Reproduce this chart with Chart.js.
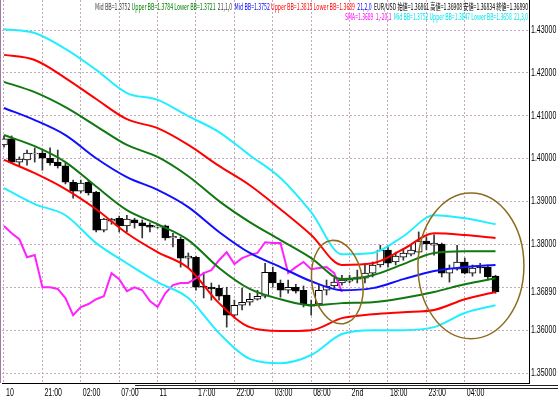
<!DOCTYPE html>
<html>
<head>
<meta charset="utf-8">
<script src="https://cdn.jsdelivr.net/npm/chart.js@4.4.0/dist/chart.umd.min.js"></script>
<style>
  html, body { margin: 0; padding: 0; background: #fff; }
  #wrap { width: 558px; height: 399px; }
</style>
</head>
<body>
<div id="wrap"><canvas id="fxChart" width="558" height="399"></canvas></div>
<script>
// EUR/USD hourly candles, bar index 0..64
const opens = [1.4032,1.4046,1.3992,1.3997,1.4011,1.4013,1.4001,1.3992,1.3983,1.3945,
  1.3924,1.3945,1.3922,1.3833,1.3854,1.3861,1.3843,1.3857,1.3850,1.3845,
  1.3840,1.3843,1.3815,1.3812,1.3768,1.3770,1.3703,1.3700,1.3698,1.3682,
  1.3635,1.3658,1.3665,1.3672,1.3679,1.3735,1.3710,1.3693,1.3700,1.3693,
  1.3656,1.3661,1.3693,1.3703,1.3710,1.3714,1.3719,1.3721,1.3733,1.3752,
  1.3787,1.3759,1.3770,1.3777,1.3782,1.3808,1.3798,1.3801,1.3733,1.3742,
  1.3759,1.3733,1.3747,1.3747,1.3726];
const highs = [1.4053,1.4053,1.4004,1.4020,1.4025,1.4020,1.4025,1.4020,1.3990,1.3950,
  1.3950,1.3950,1.3924,1.3861,1.3861,1.3866,1.3868,1.3861,1.3857,1.3850,
  1.3845,1.3845,1.3826,1.3817,1.3780,1.3773,1.3735,1.3710,1.3705,1.3700,
  1.3670,1.3698,1.3686,1.3693,1.3756,1.3747,1.3717,1.3717,1.3707,1.3703,
  1.3670,1.3705,1.3717,1.3721,1.3728,1.3728,1.3740,1.3756,1.3759,1.3798,
  1.3798,1.3782,1.3791,1.3798,1.3829,1.3817,1.3822,1.3803,1.3752,1.3798,
  1.3768,1.3752,1.3756,1.3752,1.3728];
const lows = [1.4027,1.3990,1.3983,1.3985,1.3992,1.3973,1.3985,1.3978,1.3941,1.3908,
  1.3920,1.3915,1.3829,1.3829,1.3847,1.3829,1.3829,1.3838,1.3815,1.3829,
  1.3838,1.3810,1.3794,1.3747,1.3747,1.3693,1.3675,1.3670,1.3670,1.3607,
  1.3628,1.3647,1.3658,1.3670,1.3675,1.3700,1.3677,1.3686,1.3686,1.3654,
  1.3635,1.3654,1.3682,1.3698,1.3705,1.3710,1.3710,1.3710,1.3724,1.3747,
  1.3747,1.3752,1.3763,1.3773,1.3780,1.3787,1.3775,1.3724,1.3712,1.3740,
  1.3731,1.3726,1.3733,1.3717,1.3686];
const closes = [1.4046,1.3992,1.3999,1.4013,1.4013,1.4001,1.3990,1.3983,1.3945,1.3924,
  1.3943,1.3920,1.3833,1.3859,1.3859,1.3843,1.3859,1.3850,1.3843,1.3840,
  1.3843,1.3815,1.3819,1.3768,1.3773,1.3700,1.3700,1.3696,1.3679,1.3635,
  1.3658,1.3665,1.3672,1.3679,1.3735,1.3710,1.3693,1.3700,1.3691,1.3661,
  1.3661,1.3693,1.3703,1.3712,1.3717,1.3719,1.3724,1.3733,1.3752,1.3787,
  1.3756,1.3773,1.3780,1.3787,1.3808,1.3801,1.3803,1.3733,1.3745,1.3759,
  1.3733,1.3745,1.3745,1.3724,1.3689];

// time axis labels, one every 5 bars
const timeLabels = ['10','21:00','02:00','07:00','11','17:00','22:00','03:00','08:00','2nd','18:00','23:00','04:00'];
const priceTicks = [1.35,1.36,1.37,1.38,1.39,1.40,1.41,1.42,1.43];

// bollinger bands, read every 4 bars
const bandIdx  = [0,4,8,12,16,20,24,28,32,36,40,44,48,52,56,60,64];
const bb3Upper = [1.4302,1.4293,1.4256,1.4207,1.4153,1.4137,1.4099,1.4062,1.4008,1.3955,1.3875,1.3777,1.3780,1.3819,1.3868,1.3861,1.3847];
const bb2Upper = [1.4242,1.4230,1.4188,1.4139,1.4092,1.4071,1.4032,1.3983,1.3938,1.3882,1.3822,1.3752,1.3756,1.3789,1.3826,1.3822,1.3815];
const bb1Upper = [1.4179,1.4155,1.4120,1.4076,1.4032,1.4004,1.3959,1.3901,1.3852,1.3810,1.3768,1.3719,1.3728,1.3754,1.3780,1.3784,1.3784];
const bbMid    = [1.4118,1.4090,1.4055,1.4001,1.3957,1.3927,1.3887,1.3829,1.3780,1.3747,1.3714,1.3693,1.3698,1.3719,1.3738,1.3747,1.3752];
const bb1Lower = [1.4055,1.4029,1.3992,1.3935,1.3880,1.3847,1.3810,1.3745,1.3696,1.3672,1.3658,1.3663,1.3665,1.3675,1.3689,1.3707,1.3721];
const bb2Lower = [1.3997,1.3966,1.3929,1.3882,1.3826,1.3782,1.3745,1.3663,1.3607,1.3598,1.3600,1.3628,1.3637,1.3642,1.3647,1.3672,1.3689];
const bb3Lower = [1.3931,1.3894,1.3868,1.3803,1.3756,1.3712,1.3675,1.3593,1.3533,1.3523,1.3542,1.3591,1.3600,1.3600,1.3607,1.3640,1.3658];

// magenta lagging line (shift -20), bars 0..44
const sma = [1.3843,1.3826,1.3812,1.3770,1.3775,1.3700,1.3700,1.3696,1.3675,1.3635,
  1.3654,1.3661,1.3672,1.3679,1.3733,1.3719,1.3691,1.3700,1.3693,1.3668,
  1.3654,1.3686,1.3705,1.3710,1.3710,1.3721,1.3733,1.3740,1.3763,1.3782,
  1.3754,1.3768,1.3775,1.3780,1.3805,1.3803,1.3803,1.3733,1.3747,1.3759,
  1.3742,1.3745,1.3747,1.3733,1.3689];

const lastPrice = 1.3689;

// hand drawn circles (bar index / price units)
const circles = [
  { x: 43.4, y: 1.3712, rx: 3.3, ry: 0.0098, rot: -0.15 },
  { x: 60.8, y: 1.3750, rx: 6.9, ry: 0.0170, rot: 0 }
];

const header1 = [
  ['Mid BB=1.3752', '#404040'],
  [' Upper BB=1.3784 Lower BB=1.3721', '#008000'],
  ['  21,1,0', '#404040'],
  ['  Mid BB=1.3752', '#0000ff'],
  [' Upper BB=1.3815 Lower BB=1.3689', '#ff0000'],
  ['  21,2,0', '#0000ff'],
  ['  EUR/USD 始値=1.36861 高値=1.36908 安値=1.36834 終値=1.36890', '#000000']
];
const header2 = [
  ['SMA=1.3689  1,-20,1', '#ff00ff'],
  ['  Mid BB=1.3752 Upper BB=1.3847 Lower BB=1.3658  21,3,0', '#00e5ee']
];

const tickFont = "10px 'Liberation Sans','DejaVu Sans',sans-serif";
const squeeze = 0.7;   // the screen font is much narrower than anything installed

function band(arr) {
  return bandIdx.map((b, k) => ({ x: b, y: arr[k] }));
}
function lineSet(arr, color) {
  return { type: 'line', data: band(arr), borderColor: color, borderWidth: 2, pointRadius: 0,
    cubicInterpolationMode: 'monotone', fill: false, order: 0 };
}

function drawRun(ctx, parts, left, right, y) {
  let total = 0;
  parts.forEach(p => { total += ctx.measureText(p[0]).width; });
  const k = (right - left) / total;
  ctx.save();
  ctx.translate(left, y);
  ctx.scale(k, 1);
  let cx = 0;
  parts.forEach(p => {
    ctx.fillStyle = p[1];
    ctx.fillText(p[0], cx, 0);
    cx += ctx.measureText(p[0]).width;
  });
  ctx.restore();
}

function narrowText(ctx, txt, x, y) {
  ctx.save();
  ctx.translate(x, y);
  ctx.scale(squeeze, 1);
  ctx.fillText(txt, 0, 0);
  ctx.restore();
}

const overlay = {
  id: 'overlay',
  afterDatasetsDraw(chart) {
    const { ctx, scales: { x, y } } = chart;
    ctx.save();
    ctx.strokeStyle = '#8c6d1f';
    ctx.lineWidth = 1.5;
    circles.forEach(c => {
      const cx = x.getPixelForValue(c.x), cy = y.getPixelForValue(c.y);
      const rx = x.getPixelForValue(c.x + c.rx) - cx;
      const ry = cy - y.getPixelForValue(c.y + c.ry);
      ctx.beginPath();
      ctx.ellipse(cx, cy, rx, ry, c.rot, 0, Math.PI * 2);
      ctx.stroke();
    });
    ctx.restore();
  },
  afterDraw(chart) {
    const { ctx, chartArea, scales: { x, y } } = chart;
    ctx.save();
    ctx.font = "9px 'Liberation Sans Narrow','Noto Sans CJK JP',sans-serif";
    ctx.textBaseline = 'middle';
    drawRun(ctx, header1, 95, 528, 7);
    drawRun(ctx, header2, 345, 528, 17);

    // axis labels
    ctx.font = tickFont;
    ctx.fillStyle = '#000';
    ctx.textAlign = 'left';
    x.ticks.forEach((t, k) => narrowText(ctx, timeLabels[k], x.getPixelForValue(t.value) + 2, 393));
    const lastY = y.getPixelForValue(lastPrice);
    y.ticks.forEach(t => {
      const py = y.getPixelForValue(t.value);
      if (Math.abs(py - lastY) < 10) return;   // current price label takes its place
      narrowText(ctx, t.value.toFixed(5), chartArea.right + 2, py);
    });
    // current price next to the axis
    narrowText(ctx, lastPrice.toFixed(5), chartArea.right + 2, lastY);

    // left frame and the double rule under the time axis
    ctx.strokeStyle = '#a07aa0';
    ctx.lineWidth = 1;
    ctx.beginPath();
    ctx.moveTo(0.5, 0); ctx.lineTo(0.5, chartArea.bottom);
    ctx.stroke();
    ctx.strokeStyle = '#222';
    ctx.beginPath();
    ctx.moveTo(135, 385.5); ctx.lineTo(558, 385.5);
    ctx.moveTo(135, 388.5); ctx.lineTo(558, 388.5);
    ctx.stroke();
    ctx.restore();
  }
};

new Chart(document.getElementById('fxChart'), {
  type: 'bar',
  data: {
    datasets: [
      lineSet(bb3Upper, '#22eeff'),
      lineSet(bb2Upper, '#ff0000'),
      lineSet(bb1Upper, '#117711'),
      lineSet(bbMid, '#1010ff'),
      lineSet(bb1Lower, '#117711'),
      lineSet(bb2Lower, '#ff0000'),
      lineSet(bb3Lower, '#22eeff'),
      { type: 'line', data: sma.map((v, i) => ({ x: i, y: v })), borderColor: '#ff22ff',
        borderWidth: 2, pointRadius: 0, tension: 0, fill: false, order: 0 },
      { // candle bodies
        data: opens.map((o, i) => ({ x: i, y: [o, closes[i]] })),
        backgroundColor: opens.map((o, i) => closes[i] >= o ? '#ffffff' : '#000000'),
        borderColor: '#000', borderWidth: 1, borderSkipped: false,
        barThickness: 7, grouped: false, order: 1 },
      { // wicks
        data: lows.map((l, i) => ({ x: i, y: [l, highs[i]] })),
        backgroundColor: '#333', borderWidth: 0,
        barThickness: 1, grouped: false, order: 2 }
    ]
  },
  options: {
    responsive: false,
    animation: false,
    devicePixelRatio: 1,
    layout: { padding: { left: 2, top: 0, right: 0, bottom: 0 } },
    plugins: { legend: { display: false }, tooltip: { enabled: false } },
    scales: {
      x: {
        type: 'linear', min: -0.26, max: 68.36, offset: false,
        grid: { color: '#c4a8bc', lineWidth: 1, drawTicks: false, offset: false },
        border: { display: true, color: '#000', dash: [2, 2] },
        ticks: { display: false },
        afterBuildTicks: s => { s.ticks = timeLabels.map((_, k) => ({ value: k * 5 })); },
        afterFit: s => { s.height = 16; s.paddingLeft = 0; s.paddingRight = 0; }
      },
      y: {
        position: 'right', min: 1.34767, max: 1.43700,
        grid: { color: '#c4a8bc', lineWidth: 1, drawTicks: false },
        border: { display: true, color: '#000', dash: [2, 2] },
        ticks: { display: false },
        afterBuildTicks: s => { s.ticks = priceTicks.map(v => ({ value: v })); },
        afterFit: s => { s.width = 29; s.paddingTop = 0; s.paddingBottom = 0; }
      }
    }
  },
  plugins: [overlay]
});
</script>
</body>
</html>
